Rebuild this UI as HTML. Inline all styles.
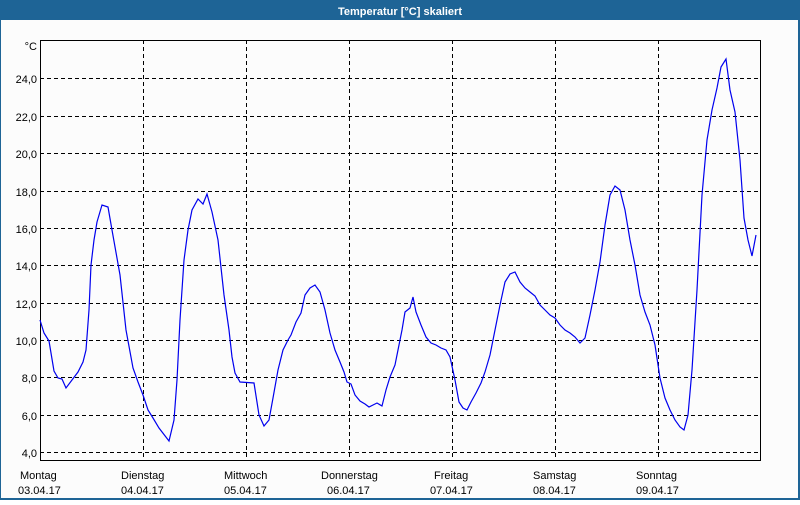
<!DOCTYPE html>
<html><head><style>
body{margin:0;width:800px;height:500px;background:#fff;overflow:hidden;font-family:"Liberation Sans","DejaVu Sans",sans-serif}
</style></head><body>
<svg width="800" height="500" xmlns="http://www.w3.org/2000/svg" font-family="Liberation Sans, DejaVu Sans, sans-serif">
<rect x="0" y="0" width="800" height="500" fill="#1e6496"/>
<rect x="1" y="20" width="797" height="478" fill="#fcfcfc"/>
<text x="400" y="15" text-anchor="middle" fill="#fff" font-size="11" font-weight="bold">Temperatur [°C] skaliert</text>
<g stroke="#000" stroke-width="1" stroke-dasharray="4,3" fill="none">
<path d="M143.5 40V460M246.5 40V460M349.5 40V460M452.5 40V460M555.5 40V460M658.5 40V460"/>
<path d="M40 78.5H760M40 116.5H760M40 153.5H760M40 191.5H760M40 228.5H760M40 265.5H760M40 303.5H760M40 340.5H760M40 377.5H760M40 415.5H760M40 452.5H760"/>
</g>
<path d="M40.5 40.5H760.5V460.5H40.5Z" fill="none" stroke="#000"/>
<g font-size="11" fill="#000" text-anchor="end">
<text x="37" y="50">°C</text>
<text x="37" y="83">24,0</text><text x="37" y="121">22,0</text><text x="37" y="158">20,0</text>
<text x="37" y="196">18,0</text><text x="37" y="233">16,0</text><text x="37" y="270">14,0</text>
<text x="37" y="308">12,0</text><text x="37" y="345">10,0</text><text x="37" y="382">8,0</text>
<text x="37" y="420">6,0</text><text x="37" y="457">4,0</text>
</g>
<g font-size="11" fill="#000">
<text x="20" y="479">Montag</text><text x="18" y="494">03.04.17</text>
<text x="121" y="479">Dienstag</text><text x="121" y="494">04.04.17</text>
<text x="224" y="479">Mittwoch</text><text x="224" y="494">05.04.17</text>
<text x="321" y="479">Donnerstag</text><text x="327" y="494">06.04.17</text>
<text x="434" y="479">Freitag</text><text x="430" y="494">07.04.17</text>
<text x="533" y="479">Samstag</text><text x="533" y="494">08.04.17</text>
<text x="636" y="479">Sonntag</text><text x="636" y="494">09.04.17</text>
</g>
<polyline fill="none" stroke="#0000ee" stroke-width="1.2" points="40,320 44,333 49,341 54,371 58,378 62,379 66,388 72,380 78,372 83,362 86,350 89,310 91,265 94,240 97,222 102,205 108,207 112,230 120,275 126,330 133,368 138,382 143,395 148,410 153,418 159,428 169,441 174,420 177,380 180,320 184,260 188,230 192,210 198,199 203,204 207,194 212,212 218,240 224,295 229,330 232,357 235,373 240,382 254,383 259,415 264,426 269,420 273,398 278,370 283,350 288,340 291,335 296,322 301,313 305,295 310,288 315,285 320,292 325,310 330,333 335,350 340,362 344,372 347,382 351,384 355,395 360,401 365,404 369,407 373,405 377,403 382,406 386,390 390,377 395,365 398,350 402,330 405,312 410,308 413,297 416,312 421,325 426,337 431,343 436,345 441,348 446,350 450,357 455,380 459,402 463,408 467,410 471,402 476,393 481,383 485,372 490,355 495,330 500,305 505,282 510,274 515,272 520,282 525,288 530,292 535,296 540,305 545,310 550,315 555,318 560,325 565,330 570,333 575,337 580,343 585,338 590,315 595,290 600,262 605,225 610,195 615,186 620,190 625,210 630,240 635,265 640,295 645,312 650,325 655,345 660,378 665,398 670,410 675,420 680,427 684,430 688,415 692,370 697,290 702,195 707,140 712,110 717,88 721,67 726,59 730,90 735,112 740,160 744,218 748,240 752,256 756,235"/>
</svg>
</body></html>
